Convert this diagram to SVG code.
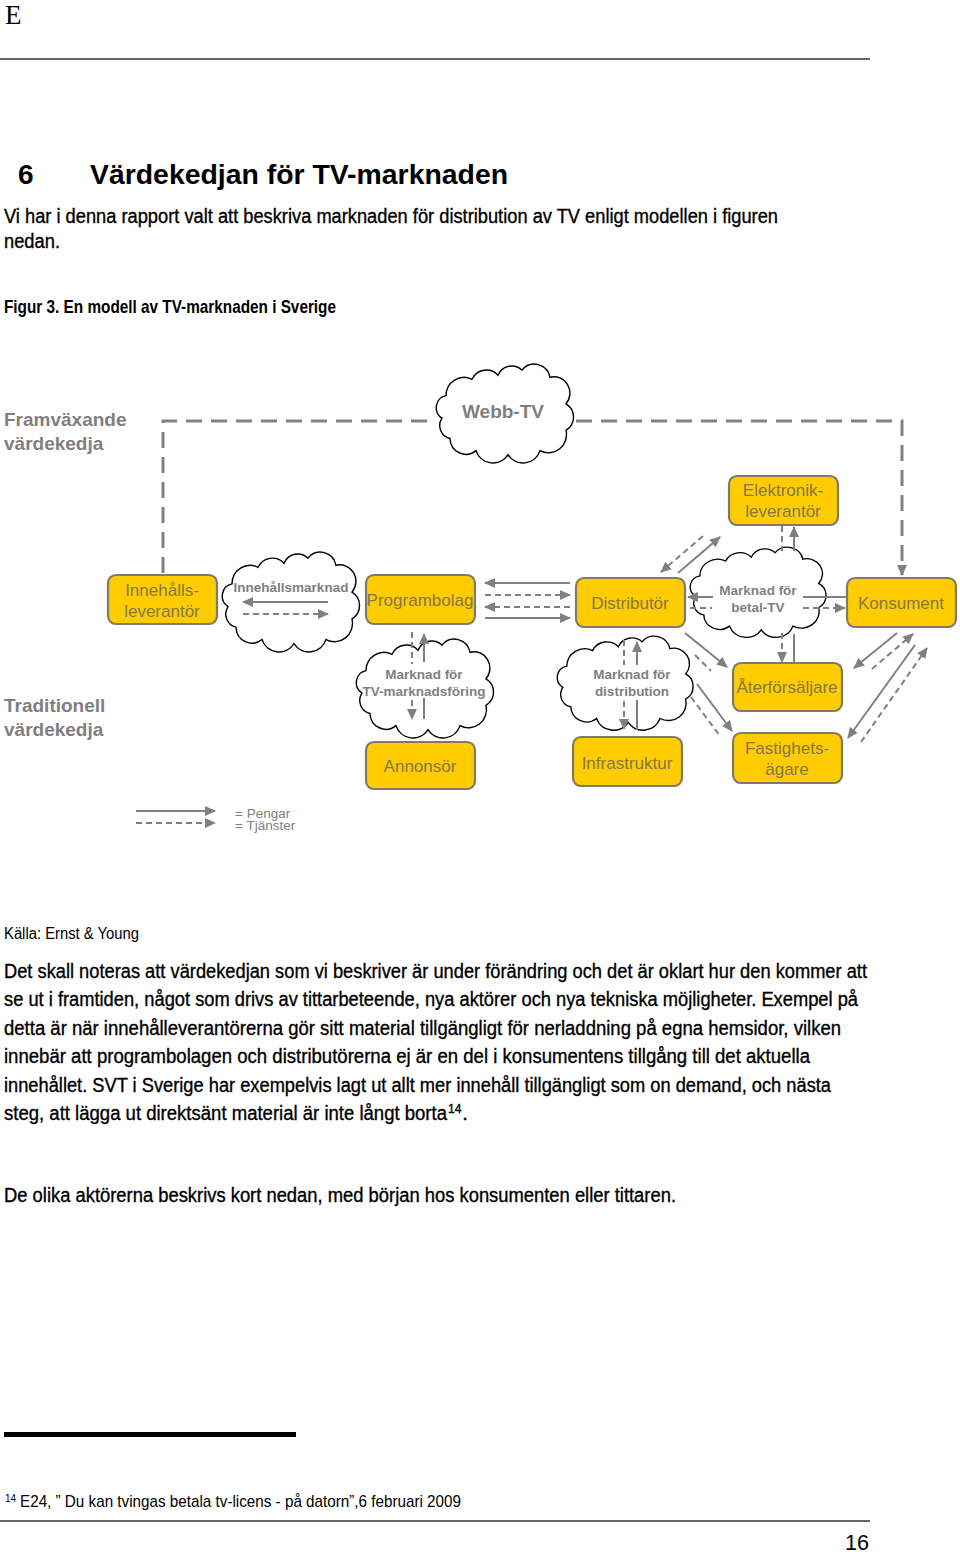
<svg xmlns="http://www.w3.org/2000/svg" width="960" height="1552" viewBox="0 0 960 1552">
<style>
.pg{font-family:"Liberation Sans",Arial,sans-serif;fill:#000}
.bd{stroke:#000;stroke-width:0.35}
.lab{font-family:"Liberation Sans",Arial,sans-serif;font-weight:bold;fill:#7f7f7f}
.box{fill:#FFCC00;stroke:#7f7a6a;stroke-width:2.2}
.bt{font-family:"Liberation Sans",Arial,sans-serif;font-size:17px;fill:#857745;text-anchor:middle}
.ct{font-family:"Liberation Sans",Arial,sans-serif;font-size:13.5px;font-weight:bold;fill:#808080;text-anchor:middle}
.cloud{fill:#fff;stroke:#000;stroke-width:1.4}
.s{fill:none;stroke:#808080;stroke-width:2}
.d{fill:none;stroke:#808080;stroke-width:2;stroke-dasharray:6 4}
.fr{fill:none;stroke:#808080;stroke-width:3;stroke-dasharray:16 9}
</style>
<defs>
<marker id="ah" markerUnits="userSpaceOnUse" markerWidth="11" markerHeight="10" refX="10" refY="5" orient="auto">
<path d="M0,0 L11,5 L0,10 z" fill="#808080"/>
</marker>
<path id="cl" d="M10,52 A12,12 0 0 1 14,30 A18,18 0 0 1 40,14 A16,16 0 0 1 66,10 A15,15 0 0 1 90,5 A16,16 0 0 1 118,12 A16,16 0 0 1 134,38 A15,15 0 0 1 134,64 A18,18 0 0 1 108,84 A18,18 0 0 1 76,88 A18,18 0 0 1 44,84 A16,16 0 0 1 18,72 A13,13 0 0 1 10,52 Z"/>
</defs>

<!-- page text -->
<text class="pg" x="5" y="24" style="font-family:'Liberation Serif',serif;font-size:27px">E</text>
<line x1="0" y1="59" x2="870" y2="59" stroke="#333" stroke-width="1.5"/>
<text class="pg" x="18" y="184" font-size="28" font-weight="bold">6</text>
<text class="pg" x="90" y="184" font-size="28" font-weight="bold" textLength="418" lengthAdjust="spacingAndGlyphs">Värdekedjan för TV-marknaden</text>
<text class="pg bd" x="4" y="223" font-size="20" textLength="774" lengthAdjust="spacingAndGlyphs">Vi har i denna rapport valt att beskriva marknaden för distribution av TV enligt modellen i figuren</text>
<text class="pg bd" x="4" y="248" font-size="20" textLength="56" lengthAdjust="spacingAndGlyphs">nedan.</text>
<text class="pg" x="4" y="313" font-size="19" font-weight="bold" textLength="332" lengthAdjust="spacingAndGlyphs">Figur 3. En modell av TV-marknaden i Sverige</text>

<!-- diagram labels -->
<text class="lab" x="4" y="426" font-size="19">Framväxande</text>
<text class="lab" x="4" y="450" font-size="19">värdekedja</text>
<text class="lab" x="4" y="712" font-size="19">Traditionell</text>
<text class="lab" x="4" y="736" font-size="19">värdekedja</text>

<!-- nodes -->
<g id="webbtv"><use href="#cl" class="cloud" transform="translate(432,365) scale(1,1.02)"/><text class="lab" x="503" y="418" font-size="19" text-anchor="middle">Webb-TV</text></g>
<g id="innehallsmarknad"><use href="#cl" class="cloud" transform="translate(218,553) scale(1,1.03)"/><text class="ct" x="291" y="592">Innehållsmarknad</text></g>
<g id="betaltv"><use href="#cl" class="cloud" transform="translate(686,548) scale(0.99,0.93)"/><text class="ct" x="758" y="595">Marknad för</text><text class="ct" x="758" y="612">betal-TV</text></g>
<g id="tvmarknadsforing"><use href="#cl" class="cloud" transform="translate(352,640) scale(1,1.02)"/><text class="ct" x="424" y="679">Marknad för</text><text class="ct" x="424" y="696">TV-marknadsföring</text></g>
<g id="distribution"><use href="#cl" class="cloud" transform="translate(553,637) scale(0.99,0.97)"/><text class="ct" x="632" y="679">Marknad för</text><text class="ct" x="632" y="696">distribution</text></g>

<g id="innehallsleverantor"><rect class="box" x="108" y="575" width="109" height="49" rx="8"/><text class="bt" x="162" y="596">Innehålls-</text><text class="bt" x="162" y="617">leverantör</text></g>
<g id="programbolag"><rect class="box" x="366" y="575" width="109" height="49" rx="8"/><text class="bt" x="420" y="606">Programbolag</text></g>
<g id="distributor"><rect class="box" x="576" y="578" width="109" height="49" rx="8"/><text class="bt" x="630" y="609">Distributör</text></g>
<g id="konsument"><rect class="box" x="847" y="578" width="109" height="49" rx="8"/><text class="bt" x="901" y="609">Konsument</text></g>
<g id="elektronikleverantor"><rect class="box" x="729" y="476" width="109" height="49" rx="8"/><text class="bt" x="783" y="496">Elektronik-</text><text class="bt" x="783" y="517">leverantör</text></g>
<g id="aterforsaljare"><rect class="box" x="733" y="663" width="109" height="48" rx="8"/><text class="bt" x="787" y="693">Återförsäljare</text></g>
<g id="fastighetsagare"><rect class="box" x="733" y="733" width="109" height="50" rx="8"/><text class="bt" x="787" y="754">Fastighets-</text><text class="bt" x="787" y="775">ägare</text></g>
<g id="annonsor"><rect class="box" x="366" y="742" width="109" height="47" rx="8"/><text class="bt" x="420" y="772">Annonsör</text></g>
<g id="infrastruktur"><rect class="box" x="573" y="737" width="109" height="49" rx="8"/><text class="bt" x="627" y="769">Infrastruktur</text></g>

<!-- connectors -->
<g id="connectors">
<path class="fr" d="M163,573 V421 H434"/>
<path class="fr" d="M576,421 H902 V575" marker-end="url(#ah)"/>
<path class="s" d="M328,602 H243" marker-end="url(#ah)"/>
<path class="d" d="M243,614 H328" marker-end="url(#ah)"/>
<path class="s" d="M570,583 H485" marker-end="url(#ah)"/>
<path class="d" d="M485,595 H570" marker-end="url(#ah)"/>
<path class="d" d="M570,607 H485" marker-end="url(#ah)"/>
<path class="s" d="M485,618 H570" marker-end="url(#ah)"/>
<path class="d" d="M703,536 L661,572" marker-end="url(#ah)"/>
<path class="s" d="M678,573 L720,537" marker-end="url(#ah)"/>
<path class="s" d="M847,597 H803"/>
<path class="s" d="M713,597 H688" marker-end="url(#ah)"/>
<path class="d" d="M690,608 H712"/>
<path class="d" d="M803,608 H845" marker-end="url(#ah)"/>
<path class="d" d="M782,526 V551"/>
<path class="d" d="M782,633 V662" marker-end="url(#ah)"/>
<path class="s" d="M794,662 V634"/>
<path class="s" d="M794,551 V527" marker-end="url(#ah)"/>
<path class="d" d="M412,632 V664"/>
<path class="d" d="M412,700 V719" marker-end="url(#ah)"/>
<path class="s" d="M424,719 V698"/>
<path class="s" d="M424,662 V634" marker-end="url(#ah)"/>
<path class="d" d="M624,640 V665"/>
<path class="d" d="M624,701 V729" marker-end="url(#ah)"/>
<path class="s" d="M637,730 V700"/>
<path class="s" d="M637,665 V642" marker-end="url(#ah)"/>
<path class="s" d="M685,633 L727,667" marker-end="url(#ah)"/>
<path class="d" d="M695,655 L711,671"/>
<path class="s" d="M697,684 L732,731" marker-end="url(#ah)"/>
<path class="d" d="M691,697 L720,736"/>
<path class="s" d="M897,633 L854,668" marker-end="url(#ah)"/>
<path class="d" d="M872,669 L913,634" marker-end="url(#ah)"/>
<path class="s" d="M915,645 L848,738" marker-end="url(#ah)"/>
<path class="d" d="M861,742 L927,648" marker-end="url(#ah)"/>
<path class="s" d="M136,811 H215" marker-end="url(#ah)"/>
<path class="d" d="M136,823 H215" marker-end="url(#ah)"/>
</g>
<text x="235" y="818" font-family="Liberation Sans, Arial, sans-serif" font-size="13.5" fill="#7f7f7f">= Pengar</text>
<text x="235" y="830" font-family="Liberation Sans, Arial, sans-serif" font-size="13.5" fill="#7f7f7f">= Tjänster</text>

<!-- body text -->
<text class="pg" x="4" y="939" font-size="16" textLength="135" lengthAdjust="spacingAndGlyphs">Källa: Ernst &amp; Young</text>
<text class="pg bd" x="4" y="978" font-size="20" textLength="863" lengthAdjust="spacingAndGlyphs">Det skall noteras att värdekedjan som vi beskriver är under förändring och det är oklart hur den kommer att</text>
<text class="pg bd" x="4" y="1006" font-size="20" textLength="854" lengthAdjust="spacingAndGlyphs">se ut i framtiden, något som drivs av tittarbeteende, nya aktörer och nya tekniska möjligheter. Exempel på</text>
<text class="pg bd" x="4" y="1035" font-size="20" textLength="837" lengthAdjust="spacingAndGlyphs">detta är när innehålleverantörerna gör sitt material tillgängligt för nerladdning på egna hemsidor, vilken</text>
<text class="pg bd" x="4" y="1063" font-size="20" textLength="806" lengthAdjust="spacingAndGlyphs">innebär att programbolagen och distributörerna ej är en del i konsumentens tillgång till det aktuella</text>
<text class="pg bd" x="4" y="1092" font-size="20" textLength="827" lengthAdjust="spacingAndGlyphs">innehållet. SVT i Sverige har exempelvis lagt ut allt mer innehåll tillgängligt som on demand, och nästa</text>
<text class="pg bd" x="4" y="1120" font-size="20"><tspan textLength="443" lengthAdjust="spacingAndGlyphs">steg, att lägga ut direktsänt material är inte långt borta</tspan><tspan font-size="12" dx="1" dy="-7">14</tspan><tspan dx="1" dy="7">.</tspan></text>
<text class="pg bd" x="4" y="1202" font-size="20" textLength="672" lengthAdjust="spacingAndGlyphs">De olika aktörerna beskrivs kort nedan, med början hos konsumenten eller tittaren.</text>

<!-- footnote -->
<rect x="4" y="1432" width="292" height="5" fill="#000"/>
<text class="pg" x="20" y="1507" font-size="17"><tspan x="5" dy="-5" font-size="10">14</tspan><tspan x="20" dy="5" textLength="441" lengthAdjust="spacingAndGlyphs">E24, ” Du kan tvingas betala tv-licens - på datorn”,6 februari 2009</tspan></text>
<line x1="0" y1="1521" x2="870" y2="1521" stroke="#333" stroke-width="1.5"/>
<text class="pg" x="845" y="1550" font-size="22" textLength="24" lengthAdjust="spacingAndGlyphs">16</text>
</svg>
